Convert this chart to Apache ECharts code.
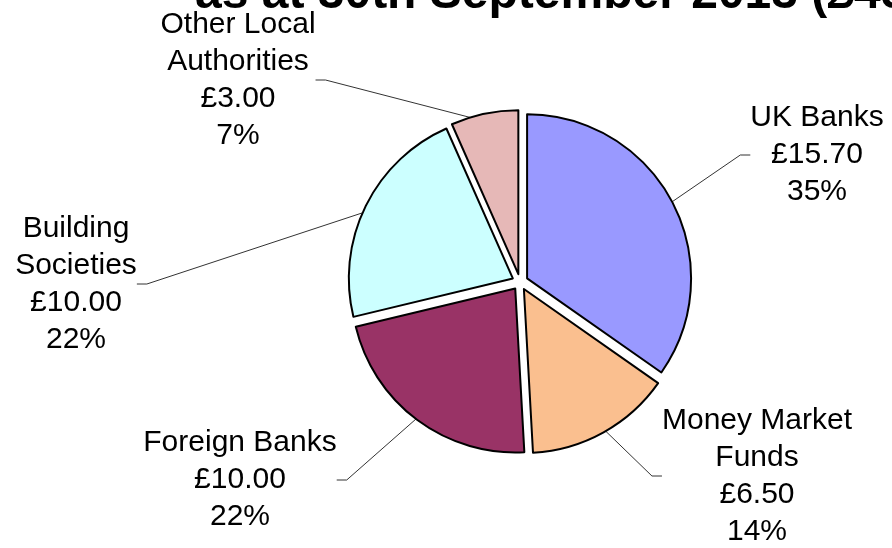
<!DOCTYPE html>
<html>
<head>
<meta charset="utf-8">
<script src="https://cdn.jsdelivr.net/npm/echarts@6/dist/echarts.min.js"></script>
<style>
  html, body { margin: 0; padding: 0; background: #fff; }
  #main { width: 892px; height: 548px; }
</style>
</head>
<body>
<div id="main"></div>
<script>
var chart = echarts.init(document.getElementById('main'));

// data
var names = ['UK Banks', 'Money Market\nFunds', 'Foreign Banks', 'Building\nSocieties', 'Other Local\nAuthorities'];
var values = [15.70, 6.50, 10.00, 10.00, 3.00];
var colors = ['#9999FF', '#FABF8F', '#993366', '#CCFFFF', '#E6B8B7'];
var titleText = 'as at 30th September 2013 (£45.2m)';

// where each label block sits (centre of the text block)
var labelPos = [[817, 155], [757, 476], [240, 480], [76, 284], [238, 80]];

var center = [520, 282];
var radius = 164;

// exploded slices (no labels)
var sliceData = names.map(function (n, i) {
    return {
        name: n,
        value: values[i],
        selected: true,
        itemStyle: { color: colors[i] }
    };
});

// same slices, invisible, only carrying the labels + leader lines
var labelData = names.map(function (n, i) {
    return { name: n, value: values[i] };
});

var option = {
    backgroundColor: '#fff',
    animation: false,
    graphic: [{
        type: 'text',
        left: 195,
        top: -29,
        style: {
            text: titleText,
            font: 'bold 48px "Liberation Sans", Arial, sans-serif',
            fill: '#000'
        }
    }],
    series: [{
        type: 'pie',
        z: 1,
        center: center,
        radius: radius,
        startAngle: 90,
        silent: true,
        percentPrecision: 0,
        itemStyle: { color: 'rgba(0,0,0,0)', borderWidth: 0 },
        label: {
            show: true,
            position: 'outside',
            fontFamily: '"Liberation Sans", Arial, sans-serif',
            fontSize: 30,
            lineHeight: 37,
            color: '#000',
            formatter: function (p) {
                return p.name + '\n£' + p.value.toFixed(2) + '\n' + p.percent + '%';
            }
        },
        labelLine: {
            show: true,
            length: 20,
            length2: 10,
            lineStyle: { color: '#333', width: 1 }
        },
        labelLayout: function (params) {
            var pos = labelPos[params.dataIndex];
            return {
                x: pos[0],
                y: pos[1],
                align: 'center',
                verticalAlign: 'middle'
            };
        },
        data: labelData
    }, {
        type: 'pie',
        z: 2,
        center: center,
        radius: radius,
        startAngle: 90,
        clockwise: true,
        selectedMode: 'multiple',
        selectedOffset: 8,
        emphasis: { disabled: true },
        select: { itemStyle: { borderColor: '#000', borderWidth: 2 } },
        itemStyle: { borderColor: '#000', borderWidth: 2 },
        label: { show: false },
        labelLine: { show: false },
        data: sliceData
    }]
};

chart.setOption(option);
</script>
</body>
</html>
